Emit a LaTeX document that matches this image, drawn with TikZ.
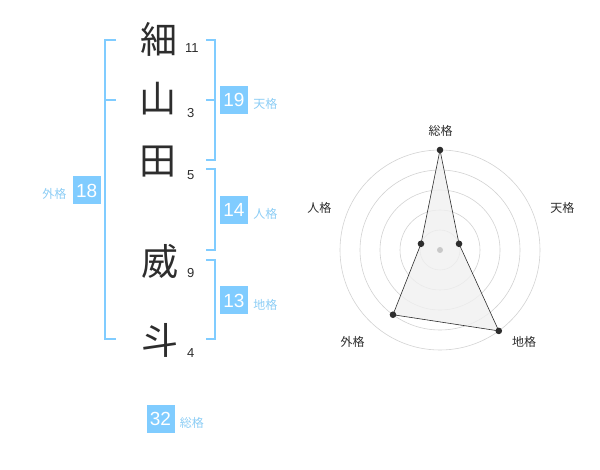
\documentclass[tikz,border=0pt]{standalone}
\usepackage{fontspec}
\setmainfont{Liberation Sans}
\newfontfamily\jpfont{Noto Sans CJK JP}
\usetikzlibrary{positioning}
\definecolor{kakublue}{RGB}{128,204,255}
\definecolor{kakutext}{RGB}{140,205,245}
\definecolor{ringgray}{RGB}{210,210,210}
\definecolor{chartfill}{RGB}{240,240,240}
\definecolor{inkgray}{RGB}{45,45,45}
\definecolor{hubgray}{RGB}{200,200,200}

\begin{document}
\begin{tikzpicture}[x=1pt, y=-1pt,
    kanji/.style={font=\jpfont\fontsize{37}{37}\selectfont, text=inkgray, inner sep=0pt},
    strokes/.style={font=\fontsize{13}{13}\selectfont, text=inkgray, inner sep=0pt, anchor=west},
    kakubox/.style={fill=kakublue, text=white, minimum size=28pt, inner sep=0pt, font=\fontsize{19}{19}\selectfont},
    kakuname/.style={font=\jpfont\fontsize{12}{12}\selectfont, text=kakutext, inner sep=0pt},
    axisname/.style={font=\jpfont\fontsize{12}{12}\selectfont, text=inkgray, inner sep=0pt},
    bracket/.style={draw=kakublue, line width=1.5pt}]
    \useasboundingbox (0,0) rectangle (600,470);

    % name
    \node[kanji] (c1) at (159,39) {細};
    \node[kanji] (c2) at (158,99) {山};
    \node[kanji] (c3) at (158,162) {田};
    \node[kanji] (c4) at (160,261) {威};
    \node[kanji] (c5) at (160,340) {斗};
    \node[strokes] (n1) at (185,48) {11};
    \node[strokes] (n2) at (187,113) {3};
    \node[strokes] (n3) at (187,175) {5};
    \node[strokes] (n4) at (187,273) {9};
    \node[strokes] (n5) at (187,353) {4};

    % brackets
    \draw[bracket] (116,40) -- (105,40) -- (105,339) -- (116,339);
    \draw[bracket] (105,100) -- (116,100);
    \draw[bracket] (206,40) -- (215,40) -- (215,160) -- (206,160);
    \draw[bracket] (206,100) -- (215,100);
    \draw[bracket] (206,169) -- (215,169) -- (215,250) -- (206,250);
    \draw[bracket] (206,260) -- (215,260) -- (215,339) -- (206,339);

    % kaku values
    \node[kakubox] (ten) at (234,100) {19};
    \node[kakubox] (jin) at (234,210) {14};
    \node[kakubox] (chi) at (234,300.5) {13};
    \node[kakubox] (gai) at (86.7,190.5) {18};
    \node[kakubox] (sou) at (160.5,419) {32};
    \node[kakuname, right=5pt of ten, yshift=-4pt] (tenlbl) {天格};
    \node[kakuname, right=5pt of jin, yshift=-4pt] (jinlbl) {人格};
    \node[kakuname, right=5pt of chi, yshift=-4pt] (chilbl) {地格};
    \node[kakuname, left=6pt of gai, yshift=-3.5pt] (gailbl) {外格};
    \node[kakuname, right=5pt of sou, yshift=-3.5pt] (soulbl) {総格};

    % radar
    \begin{scope}[shift={(440,250)}, yscale=-1]
        \foreach \r in {20,40,60,80,100}
            \draw[ringgray, line width=0.6pt] (0,0) circle (\r);
        \coordinate (p1) at (90:100);
        \coordinate (p2) at (18:20);
        \coordinate (p3) at (-54:100);
        \coordinate (p4) at (-126:80);
        \coordinate (p5) at (162:20);
        \filldraw[fill=chartfill, fill opacity=0.8, draw=inkgray, line width=0.6pt]
            (p1) -- (p2) -- (p3) -- (p4) -- (p5) -- cycle;
        \fill[hubgray] (0,0) circle (3);
        \foreach \p in {p1,p2,p3,p4,p5}
            \fill[inkgray] (\p) circle (3.3);
    \end{scope}
    \node[axisname] (soax) at (440.7,130.7) {総格};
    \node[axisname] (teax) at (562.3,208.3) {天格};
    \node[axisname] (chax) at (524,342) {地格};
    \node[axisname] (gaax) at (352.7,342) {外格};
    \node[axisname] (jiax) at (319.3,208.3) {人格};
\end{tikzpicture}
\end{document}
